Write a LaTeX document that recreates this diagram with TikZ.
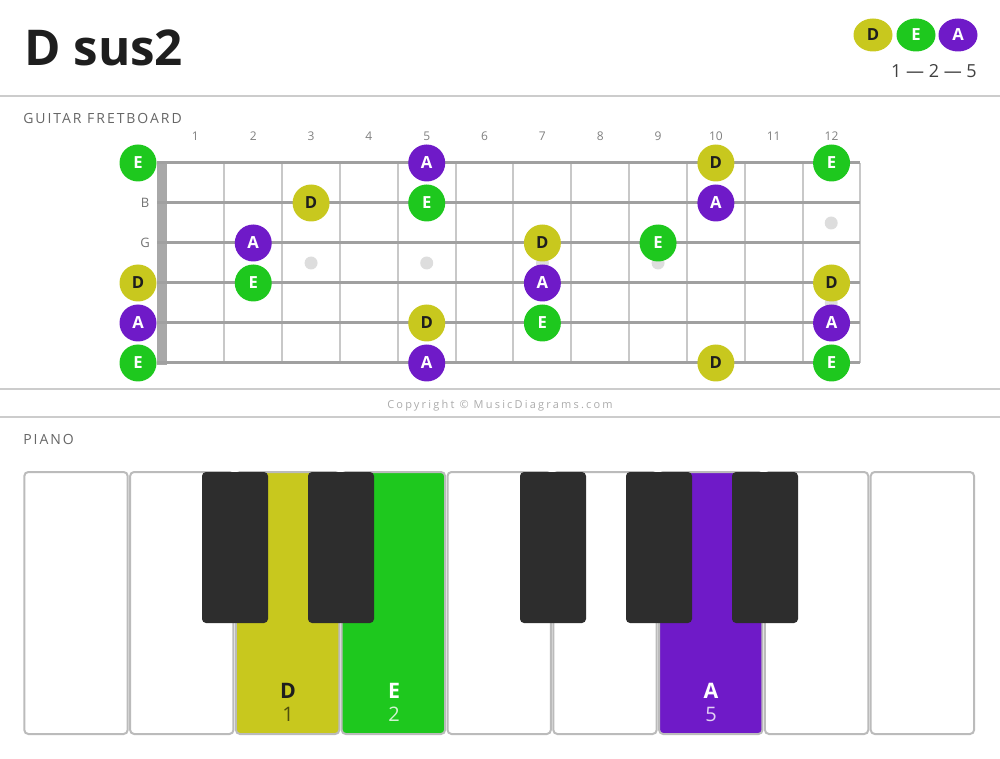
\documentclass[tikz,border=0pt]{standalone}
\usepackage{fontspec}
\setmainfont{Open Sans}
\newfontfamily\spacedfont[LetterSpace=14]{Open Sans}
\newfontfamily\copyfont[LetterSpace=20]{Open Sans}
\usetikzlibrary{shapes.geometric}
\definecolor{cD}{HTML}{C8C81E}
\definecolor{cE}{HTML}{1EC81E}
\definecolor{cA}{HTML}{6F1AC8}
\definecolor{sepc}{HTML}{CCCCCC}
\definecolor{fretc}{HTML}{C8C8C8}
\definecolor{strc}{HTML}{A0A0A0}
\definecolor{nutc}{HTML}{A8A8A8}
\definecolor{inlayc}{HTML}{DDDDDD}
\definecolor{keyborder}{HTML}{BBBBBB}
\definecolor{blackkey}{HTML}{2D2D2D}
\definecolor{darktext}{HTML}{1E1E1E}
\tikzset{
  note/.style={circle, minimum size=27.75pt, inner sep=0pt, font=\fontsize{12.5}{12.5}\selectfont\bfseries},
  nD/.style={note, fill=cD, text=darktext},
  nE/.style={note, fill=cE, text=white},
  nA/.style={note, fill=cA, text=white},
  leg/.style={ellipse, minimum width=29.25pt, minimum height=24.75pt, inner sep=0pt, font=\fontsize{12.5}{12.5}\selectfont\bfseries},
  sepline/.style={draw=sepc, line width=1.5pt},
  fretline/.style={draw=fretc, line width=1.5pt},
  stringline/.style={draw=strc, line width=2.25pt},
  inlay/.style={circle, fill=inlayc, minimum size=9.75pt, inner sep=0pt},
  fretnum/.style={text=black!50, font=\fontsize{9}{9}\selectfont},
  sectlabel/.style={anchor=west, text=black!60, font=\fontsize{10.5}{10.5}\selectfont\spacedfont},
  whitekey/.style={draw=keyborder, line width=1.5pt, rounded corners=3pt, minimum width=77.5pt, minimum height=196.5pt, inner sep=0pt},
  blackkeystyle/.style={fill=blackkey, rounded corners=3pt, minimum width=49.5pt, minimum height=113.25pt, inner sep=0pt},
  keyname/.style={font=\fontsize{16}{16}\selectfont\bfseries},
  keynum/.style={font=\fontsize{15}{15}\selectfont},
}
\begin{document}
\begin{tikzpicture}[x=0.75pt,y=-0.75pt]
\useasboundingbox (0,0) rectangle (1000,759);
% title
\node[anchor=base west, inner sep=0pt, text=darktext, font=\fontsize{37}{37}\selectfont\bfseries] (title) at (24,66) {D sus2};
% legend
\node[leg, fill=cD, text=darktext] (legD) at (873,35) {D};
\node[leg, fill=cE, text=white] (legE) at (916,35) {E};
\node[leg, fill=cA, text=white] (legA) at (958,35) {A};
\node[anchor=east, inner sep=0pt, text=black!75, font=\fontsize{13.5}{13.5}\selectfont] (legint) at (977,71) {1 — 2 — 5};
% separators
\draw[sepline] (0,96) -- (1000,96);
\draw[sepline] (0,389) -- (1000,389);
\draw[sepline] (0,417) -- (1000,417);
% section labels
\node[sectlabel, inner sep=0pt] (gl) at (23,118) {GUITAR FRETBOARD};
\node[sectlabel, inner sep=0pt] (pl) at (23,439) {PIANO};
\node[text=black!33, font=\fontsize{8.25}{8.25}\selectfont\copyfont] (copy) at (500,406) {Copyright © MusicDiagrams.com};
% fret numbers
\foreach \n in {1,...,12}{
  \pgfmathsetmacro\xx{166.5+57.83*(\n-0.5)}
  \node[fretnum] (fn\n) at (\xx,136) {\n};
}
% frets
\foreach \n in {1,...,12}{
  \pgfmathsetmacro\xx{166.5+57.83*\n}
  \draw[fretline] (\xx,163) -- (\xx,363);
}
% inlays
\foreach \n in {3,5,7,9}{
  \pgfmathsetmacro\xx{166.5+57.83*(\n-0.5)}
  \node[inlay] (in\n) at (\xx,263) {};
}
\node[inlay] (in12a) at (831.2,223) {};
\node[inlay] (in12b) at (831.2,303) {};
% nut
\fill[nutc] (157,162) rectangle (167,365);
% strings
\foreach \s in {1,...,6}{
  \pgfmathsetmacro\yy{163+40*(\s-1)}
  \draw[stringline] (157,\yy) -- (860,\yy);
}
% string labels
\node[text=black!55, font=\fontsize{9.75}{9.75}\selectfont] (lB) at (145,203) {B};
\node[text=black!55, font=\fontsize{9.75}{9.75}\selectfont] (lG) at (145,243) {G};
% notes
\foreach \f/\s/\n in {0/1/E,5/1/A,10/1/D,12/1/E, 3/2/D,5/2/E,10/2/A, 2/3/A,7/3/D,9/3/E, 0/4/D,2/4/E,7/4/A,12/4/D, 0/5/A,5/5/D,7/5/E,12/5/A, 0/6/E,5/6/A,10/6/D,12/6/E}{
  \pgfmathsetmacro\xx{\f==0 ? 138 : 166.5+57.83*(\f-0.5)}
  \pgfmathsetmacro\yy{163+40*(\s-1)}
  \node[n\n] (g\s-\f) at (\xx,\yy) {\n};
}
% piano white keys
\foreach \i/\c in {0/white,1/white,2/cD,3/cE,4/white,5/white,6/cA,7/white,8/white}{
  \pgfmathsetmacro\xx{24+105.8*\i+52}
  \node[whitekey, fill=\c] (w\i) at (\xx,603) {};
}
% black keys
\foreach \xx [count=\k] in {235,341,553,659,765}{
  \node[blackkeystyle] (b\k) at (\xx,547.5) {};
}
% key labels
\node[keyname, text=darktext] (kD) at (288,691) {D};
\node[keynum, text=black!60!cD] (kD1) at (288,714.5) {1};
\node[keyname, text=white] (kE) at (394,691) {E};
\node[keynum, text=white!80!cE] (kE2) at (394,714.5) {2};
\node[keyname, text=white] (kA) at (711,691) {A};
\node[keynum, text=white!80!cA] (kA5) at (711,714.5) {5};
\end{tikzpicture}
\end{document}
